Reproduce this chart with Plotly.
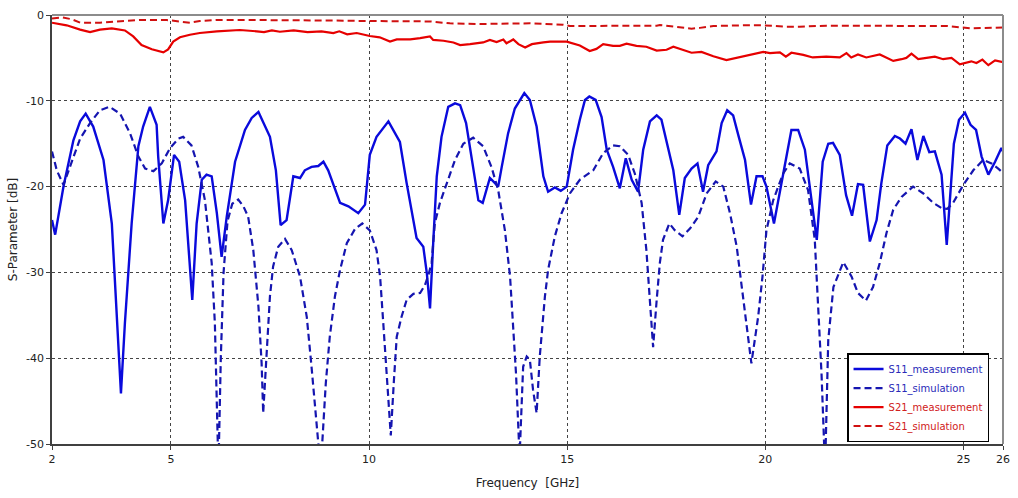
import plotly.graph_objects as go

# ---------------- data ----------------
s11_meas_freq = [2.00, 2.08, 2.29, 2.54, 2.71, 2.85, 3.04, 3.30, 3.51, 3.63, 3.74, 3.84, 4.01, 4.18, 4.30, 4.47,
                 4.64, 4.68, 4.81, 4.93, 5.08, 5.21, 5.36, 5.54, 5.65, 5.78, 5.90, 6.03, 6.16, 6.28, 6.41, 6.62,
                 6.87, 7.04, 7.21, 7.50, 7.65, 7.77, 7.92, 8.09, 8.26, 8.38, 8.55, 8.72, 8.85, 8.97, 9.27, 9.48,
                 9.73, 9.90, 10.02, 10.19, 10.49, 10.78, 10.95, 11.20, 11.37, 11.46, 11.54, 11.62, 11.71, 11.83,
                 12.00, 12.17, 12.30, 12.45, 12.59, 12.76, 12.87, 13.05, 13.18, 13.26, 13.35, 13.51, 13.68, 13.92,
                 14.06, 14.23, 14.40, 14.52, 14.69, 14.84, 14.99, 15.15, 15.32, 15.45, 15.56, 15.72, 15.87, 16.00,
                 16.16, 16.33, 16.48, 16.63, 16.79, 16.92, 17.09, 17.26, 17.38, 17.51, 17.68, 17.83, 17.97, 18.14,
                 18.29, 18.43, 18.56, 18.77, 18.90, 19.04, 19.19, 19.32, 19.49, 19.64, 19.78, 19.93, 20.03, 20.22,
                 20.45, 20.66, 20.83, 21.00, 21.30, 21.45, 21.59, 21.71, 21.88, 22.04, 22.19, 22.34, 22.47, 22.64,
                 22.81, 22.93, 23.08, 23.27, 23.40, 23.54, 23.69, 23.84, 23.99, 24.14, 24.28, 24.45, 24.58, 24.66,
                 24.76, 24.89, 25.04, 25.18, 25.32, 25.46, 25.63, 25.80, 25.96, 26.00]
s11_meas_db = [-23.9, -25.6, -20.0, -14.6, -12.4, -11.5, -13.0, -16.9, -24.3, -34.0, -44.1, -35.9, -24.3, -15.3, -13.0, -10.7,
               -12.8, -16.5, -24.3, -21.6, -16.3, -17.1, -21.6, -33.2, -24.3, -19.2, -18.6, -18.8, -23.1, -28.2, -23.5, -17.1,
               -13.4, -12.0, -11.3, -14.2, -18.1, -24.5, -23.9, -18.8, -19.0, -18.1, -17.7, -17.6, -17.1, -18.1, -21.9, -22.3,
               -23.1, -22.1, -16.3, -14.2, -12.4, -14.8, -19.6, -26.0, -27.0, -30.1, -34.2, -26.6, -18.8, -14.2,
               -10.7, -10.3, -10.5, -12.6, -16.9, -21.6, -21.9, -19.0, -19.6, -20.0, -17.7, -13.8, -10.9, -9.1,
               -9.9, -13.0, -18.8, -20.6, -20.1, -20.5, -20.0, -15.7, -12.2, -9.9, -9.5, -9.9, -11.9, -15.7,
               -17.7, -20.2, -16.7, -19.2, -20.6, -15.7, -12.4, -11.7, -12.2, -14.6, -18.1, -23.3, -19.0, -17.9,
               -17.3, -20.6, -17.5, -15.9, -12.6, -11.1, -11.7, -14.0, -16.9, -22.1, -18.8, -18.8, -20.0, -24.3,
               -18.5, -13.4, -13.4, -15.7, -26.2, -17.1, -15.0, -14.9, -16.3, -21.0, -23.4, -19.7, -19.8, -26.4,
               -23.9, -19.6, -15.2, -14.1, -14.4, -15.0, -13.3, -16.9, -14.1, -16.0, -15.9, -18.6, -26.8, -21.6,
               -15.0, -12.2, -11.4, -12.8, -13.4, -16.5, -18.6, -17.1, -15.5, -15.9]

s11_sim_freq = [2.00, 2.12, 2.29, 2.45, 2.71, 2.96, 3.21, 3.45, 3.72, 3.97, 4.18, 4.35, 4.56, 4.77, 4.98, 5.19,
                5.31, 5.52, 5.69, 5.86, 6.03, 6.11, 6.16, 6.20, 6.26, 6.33, 6.43, 6.55, 6.70, 6.83, 6.95, 7.08,
                7.21, 7.29, 7.33, 7.42, 7.50, 7.58, 7.71, 7.88, 8.05, 8.26, 8.43, 8.55, 8.66, 8.78, 8.91, 9.01,
                9.14, 9.27, 9.44, 9.65, 9.83, 10.02, 10.19, 10.28, 10.36, 10.45, 10.55, 10.63, 10.70, 10.82,
                10.95, 11.12, 11.29, 11.41, 11.50, 11.58, 11.66, 11.79, 11.96, 12.17, 12.38, 12.63, 12.88, 13.09,
                13.26, 13.43, 13.56, 13.64, 13.71, 13.80, 13.89, 13.98, 14.06, 14.14, 14.23, 14.31, 14.44, 14.52,
                14.69, 14.86, 15.07, 15.32, 15.66, 15.91, 16.16, 16.33, 16.54, 16.71, 16.88, 17.00, 17.09, 17.17,
                17.26, 17.34, 17.42, 17.58, 17.72, 17.91, 18.10, 18.31, 18.52, 18.75, 18.94, 19.11, 19.28, 19.44,
                19.65, 19.82, 19.93, 20.03, 20.20, 20.45, 20.62, 20.87, 21.08, 21.25, 21.34, 21.42, 21.51, 21.59,
                21.72, 21.97, 22.18, 22.34, 22.54, 22.72, 22.89, 23.06, 23.23, 23.44, 23.73, 23.99, 24.24, 24.45,
                24.59, 24.74, 25.00, 25.25, 25.50, 25.71, 25.88, 26.00]
s11_sim_db = [-15.9, -18.1, -19.8, -17.7, -14.4, -12.6, -11.1, -10.7, -11.5, -13.8, -16.5, -17.9, -18.2, -17.3, -15.5, -14.4,
              -14.2, -15.2, -17.7, -21.6, -28.9, -35.9, -43.7, -53.0, -40.0, -30.0, -24.0, -22.0, -21.5, -22.3, -23.5, -27.4,
              -34.0, -40.6, -46.4, -39.8, -32.8, -29.3, -27.0, -26.1, -27.4, -30.5, -35.2, -41.0, -47.6, -53.0, -42.9, -37.5,
              -32.8, -29.7, -26.6, -24.9, -24.3, -25.1, -27.4, -30.5, -35.9, -42.5, -49.0, -42.5, -37.5, -35.2,
              -33.2, -32.5, -32.4, -31.5, -30.3, -28.9, -24.3, -21.9, -19.6, -16.9, -15.0, -14.3, -15.3, -17.7,
              -20.4, -25.1, -30.5, -35.9, -41.8, -51.5, -41.0, -39.8, -40.2, -43.7, -46.4, -39.8, -32.8, -29.7,
              -25.8, -23.1, -20.8, -19.2, -18.1, -16.1, -15.2, -15.3, -16.3, -18.5, -21.9, -27.4, -32.8, -38.7,
              -33.2, -28.9, -26.2, -24.3, -25.1, -25.8, -24.9, -23.5, -20.8, -19.4, -20.0, -23.1, -27.0, -32.8,
              -40.6, -35.2, -30.5, -25.1, -21.6, -18.5, -17.3, -17.9, -20.4, -26.2, -34.0, -41.8, -53.0, -37.9,
              -31.7, -28.8, -30.5, -32.4, -33.3, -31.7, -28.9, -25.4, -22.7, -21.2, -20.0, -20.8, -21.9, -22.5,
              -22.6, -21.9, -19.8, -18.1, -16.9, -17.3, -17.9, -18.4]

s21_meas_freq = [2.00, 2.37, 2.71, 2.96, 3.21, 3.51, 3.84, 4.05, 4.26, 4.52, 4.81, 4.93, 5.06, 5.23, 5.48, 5.73,
                 6.16, 6.57, 6.74, 7.17, 7.35, 7.55, 7.75, 8.10, 8.45, 8.80, 9.10, 9.25, 9.45, 9.69, 10.02, 10.27,
                 10.53, 10.70, 11.04, 11.29, 11.54, 11.62, 11.88, 12.13, 12.30, 12.55, 12.88, 13.05, 13.22, 13.39,
                 13.47, 13.64, 13.77, 13.94, 14.11, 14.40, 14.57, 14.99, 15.32, 15.57, 15.74, 15.91, 16.16, 16.33,
                 16.50, 16.75, 17.00, 17.26, 17.34, 17.51, 17.68, 17.93, 18.14, 18.39, 18.69, 19.02, 19.23, 19.44,
                 19.70, 19.95, 20.12, 20.37, 20.52, 20.66, 20.96, 21.20, 21.54, 21.88, 22.05, 22.17, 22.34, 22.55,
                 22.89, 23.23, 23.44, 23.56, 23.69, 23.86, 24.07, 24.28, 24.49, 24.70, 24.91, 25.03, 25.20, 25.33,
                 25.48, 25.63, 25.80, 26.00]
s21_meas_db = [-0.9, -1.2, -1.7, -2.0, -1.7, -1.55, -1.8, -2.5, -3.5, -4.0, -4.35, -4.0, -3.1, -2.6, -2.3, -2.1,
               -1.9, -1.85, -1.75, -1.9, -2.0, -1.8, -1.95, -1.8, -2.0, -1.9, -2.1, -1.9, -2.25, -2.1, -2.45, -2.6,
               -3.1, -2.85, -2.85, -2.7, -2.5, -2.9, -3.0, -3.2, -3.5, -3.4, -3.2, -2.9, -3.15, -2.85,
               -3.3, -2.85, -3.4, -3.8, -3.4, -3.2, -3.1, -3.1, -3.55, -4.2, -3.95, -3.4, -3.6, -3.6,
               -3.35, -3.6, -3.7, -4.15, -4.1, -4.05, -3.7, -4.05, -4.4, -4.3, -4.8, -5.25, -5.05, -4.8,
               -4.6, -4.3, -4.45, -4.35, -4.85, -4.4, -4.65, -4.95, -4.85, -4.95, -4.45, -4.95, -4.6, -4.95,
               -4.6, -5.35, -5.15, -5.0, -4.5, -5.15, -5.0, -4.85, -5.15, -5.0, -5.75, -5.6, -5.4, -5.6,
               -5.2, -5.85, -5.3, -5.5]

s21_sim_freq = [2.00, 2.25, 2.50, 2.71, 3.21, 3.55, 3.90, 4.22, 4.89, 5.23, 5.48, 5.73, 6.16, 7.00, 8.10, 9.10,
                10.00, 11.54, 12.04, 12.80, 14.06, 14.90, 15.07, 15.74, 17.26, 17.34, 17.85, 18.14, 18.35, 18.69,
                19.44, 19.95, 20.54, 20.87, 21.54, 23.23, 24.58, 25.17, 26.00]
s21_sim_db = [-0.4, -0.27, -0.5, -0.9, -0.9, -0.8, -0.65, -0.58, -0.58, -0.78, -0.9, -0.7, -0.58, -0.58, -0.58, -0.65,
              -0.7, -0.75, -0.97, -1.05, -0.97, -1.13, -1.28, -1.28, -1.25, -1.17, -1.44, -1.6, -1.5, -1.28,
              -1.2, -1.2, -1.36, -1.36, -1.25, -1.25, -1.28, -1.55, -1.45]

x_ticks = [2, 5, 10, 15, 20, 25, 26]
y_ticks = [0, -10, -20, -30, -40, -50]
y_tick_labels = ["0", "-10", "-20", "-30", "-40", "-50"]

# ---------------- figure ----------------
BLUE = "#0a0adc"
BLUE_D = "#1515b0"
RED = "#e60000"
RED_D = "#d01010"
FONT = "DejaVu Sans"

fig = go.Figure()
fig.add_trace(go.Scatter(x=s11_meas_freq, y=s11_meas_db, mode="lines",
                         name="<span style='color:#2a2ab8'>S11_measurement</span>",
                         line=dict(color=BLUE, width=2.4)))
fig.add_trace(go.Scatter(x=s11_sim_freq, y=s11_sim_db, mode="lines",
                         name="<span style='color:#2a2ab8'>S11_simulation</span>",
                         line=dict(color=BLUE_D, width=2.2, dash="7px,4px")))
fig.add_trace(go.Scatter(x=s21_meas_freq, y=s21_meas_db, mode="lines",
                         name="<span style='color:#d02020'>S21_measurement</span>",
                         line=dict(color=RED, width=2.2)))
fig.add_trace(go.Scatter(x=s21_sim_freq, y=s21_sim_db, mode="lines",
                         name="<span style='color:#d02020'>S21_simulation</span>",
                         line=dict(color=RED_D, width=2.0, dash="7px,4px")))

fig.update_layout(
    width=1018, height=498,
    margin=dict(l=52, r=15, t=15, b=54),
    paper_bgcolor="white", plot_bgcolor="white",
    font=dict(family=FONT, size=11, color="#222222"),
    showlegend=True,
    legend=dict(x=0.836, y=0.212, xanchor="left", yanchor="top",
                bgcolor="white", bordercolor="black", borderwidth=1.5,
                font=dict(family=FONT, size=10), tracegroupgap=0,
                itemwidth=30),
    xaxis=dict(range=[2, 26], tickvals=x_ticks, ticktext=[str(t) for t in x_ticks],
               showgrid=True, gridcolor="#444444", griddash="dot", gridwidth=1,
               showline=True, linecolor="#404040", linewidth=1.5,
               ticks="outside", ticklen=4, tickcolor="#404040",
               zeroline=False, automargin=False,
               title=dict(text="Frequency  [GHz]", font=dict(family=FONT, size=12), standoff=14)),
    yaxis=dict(range=[-50, 0], tickvals=y_ticks, ticktext=y_tick_labels,
               showgrid=True, gridcolor="#444444", griddash="dot", gridwidth=1,
               showline=True, linecolor="#404040", linewidth=1.5,
               ticks="outside", ticklen=4, tickcolor="#404040",
               zeroline=False, automargin=False,
               title=dict(text="S-Parameter [dB]", font=dict(family=FONT, size=12), standoff=6)),
)

# light gray frame on top and right edges of the plot area
fig.add_shape(type="line", xref="paper", yref="paper", x0=0, x1=1, y0=1, y1=1,
              line=dict(color="#8c8c8c", width=2))
fig.add_shape(type="line", xref="paper", yref="paper", x0=1, x1=1, y0=0, y1=1,
              line=dict(color="#8c8c8c", width=2))

# remove the browser's default 8px body margin so the figure sits at the window origin
fig.write_html("out.html", config={"displayModeBar": False},
               post_script="document.body.style.margin='0';")
